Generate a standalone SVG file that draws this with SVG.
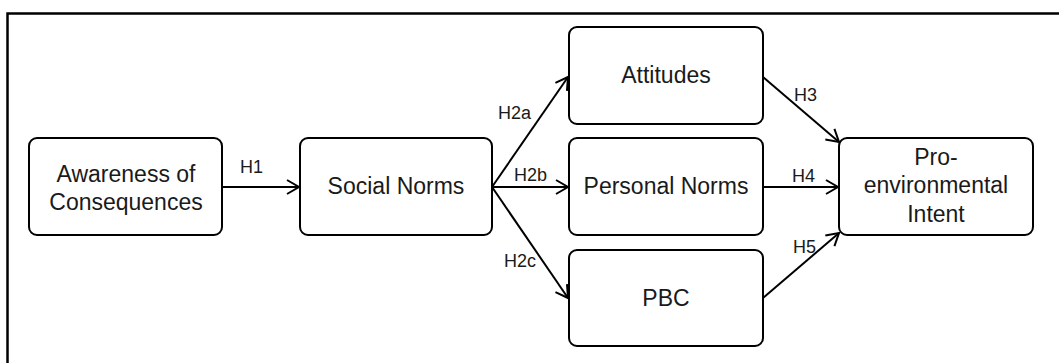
<svg xmlns="http://www.w3.org/2000/svg" width="1059" height="363" viewBox="0 0 1059 363">
<style>
.box{fill:#fff;stroke:#000;stroke-width:2}
.t{font-family:"Liberation Sans",Arial,sans-serif;font-size:23px;fill:#1a1a1a;text-anchor:middle}
.l{font-family:"Liberation Sans",Arial,sans-serif;font-size:18px;fill:#1a1a1a}
.c{stroke:#000;stroke-width:2;fill:none;marker-end:url(#ah)}
.frame{stroke:#000;stroke-width:2.5;fill:none}
</style>
<defs>
<marker id="ah" markerUnits="userSpaceOnUse" markerWidth="16" markerHeight="18" refX="13" refY="8" orient="auto" viewBox="0 0 16 16">
<path d="M1,1 L13,8 L1,15" fill="none" stroke="#000" stroke-width="2"/>
</marker>
</defs>
<path class="frame" d="M7.5,363 L7.5,13.5 L1059,13.5"/>
<g id="connectors">
<line class="c" x1="222" y1="187" x2="299" y2="187"/>
<line class="c" x1="492" y1="187" x2="568" y2="77"/>
<line class="c" x1="492" y1="187" x2="568" y2="187"/>
<line class="c" x1="492" y1="187" x2="568" y2="298"/>
<line class="c" x1="763" y1="77" x2="839" y2="142"/>
<line class="c" x1="763" y1="187" x2="838" y2="187"/>
<line class="c" x1="763" y1="298" x2="839" y2="233"/>
<text class="l" x="240" y="173">H1</text>
<text class="l" x="498" y="119">H2a</text>
<text class="l" x="514" y="181">H2b</text>
<text class="l" x="504" y="267">H2c</text>
<text class="l" x="794" y="101">H3</text>
<text class="l" x="792" y="182">H4</text>
<text class="l" x="793" y="253">H5</text>
</g>
<g id="awareness">
<rect class="box" x="29" y="138" width="193" height="97" rx="8"/>
<text class="t" x="126" y="182">Awareness of</text>
<text class="t" x="126" y="210">Consequences</text>
</g>
<g id="social-norms">
<rect class="box" x="300" y="138" width="192" height="97" rx="8"/>
<text class="t" x="396" y="194">Social Norms</text>
</g>
<g id="attitudes">
<rect class="box" x="569" y="27" width="194" height="97" rx="8"/>
<text class="t" x="666" y="83">Attitudes</text>
</g>
<g id="personal-norms">
<rect class="box" x="569" y="138" width="194" height="97" rx="8"/>
<text class="t" x="666" y="194">Personal Norms</text>
</g>
<g id="pbc">
<rect class="box" x="569" y="250" width="194" height="96" rx="8"/>
<text class="t" x="666" y="306">PBC</text>
</g>
<g id="pro-environmental-intent">
<rect class="box" x="839" y="138" width="194" height="97" rx="8"/>
<text class="t" x="936" y="165">Pro-</text>
<text class="t" x="936" y="193">environmental</text>
<text class="t" x="936" y="222">Intent</text>
</g>
</svg>
